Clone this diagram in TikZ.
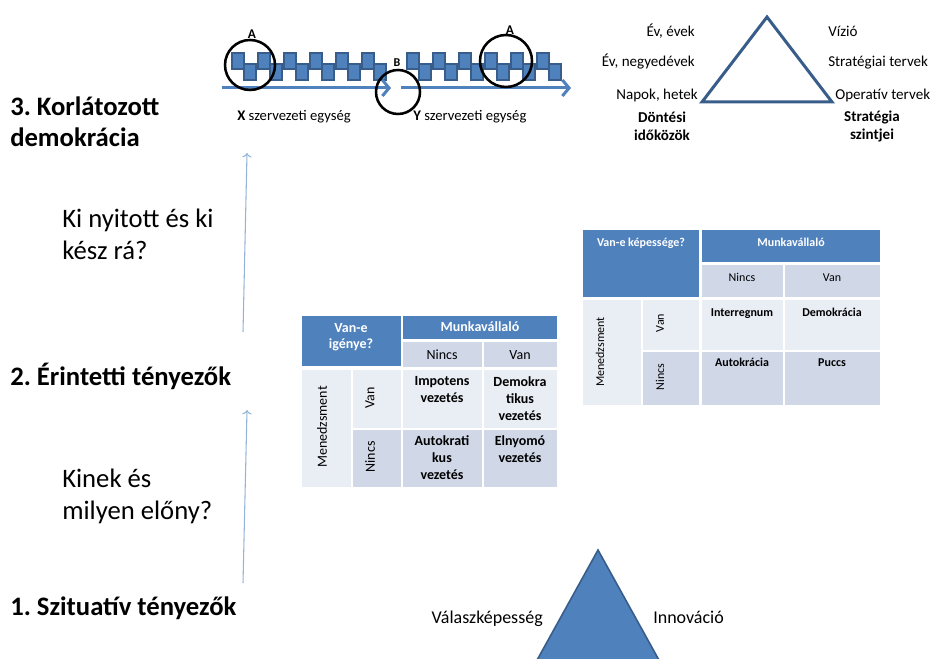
\documentclass[tikz,border=0pt]{standalone}
\usepackage{fontspec}
\setmainfont{Carlito}
\frenchspacing
\usetikzlibrary{arrows.meta}
\definecolor{blk}{HTML}{4F81BD}
\definecolor{blkdark}{HTML}{385D8A}
\definecolor{rowA}{HTML}{E9EDF4}
\definecolor{rowB}{HTML}{D0D8E8}
\definecolor{thinblue}{HTML}{95B3D7}
\begin{document}
\begin{tikzpicture}[x=0.75pt,y=-0.75pt,
    title/.style={font=\fontsize{20}{23.5}\selectfont\bfseries,align=left,inner sep=0},
    ask/.style={font=\fontsize{20}{24}\selectfont,align=left,inner sep=0,anchor=west},
    small/.style={font=\fontsize{10.5}{13.5}\selectfont,inner sep=0},
    lbl/.style={font=\fontsize{11.3}{13.5}\selectfont,inner sep=0},
    tiny/.style={font=\fontsize{9}{11}\selectfont,inner sep=0},
    cellA/.style={small,font=\fontsize{10.5}{12.75}\selectfont\bfseries,align=center,anchor=north},
    cellB/.style={tiny,font=\fontsize{9}{11}\selectfont\bfseries,anchor=base},
    ring/.style={circle,draw=black,line width=1.9pt,inner sep=0},
    bigarrow/.style={blk,line width=2.25pt,-{Straight Barb[length=5pt,width=12pt]}},
    block/.style={fill=blk,draw=blkdark,line width=0.8pt}]
\useasboundingbox (0,0) rectangle (930,659);
% left column
\node[title,anchor=west](t3)at(10,122){3. Korlátozott\\demokrácia};
\node[ask](q2)at(62,234){Ki nyitott és ki\\kész rá?};
\node[title,anchor=base west](t2)at(10,385){2. Érintetti tényezők};
\node[ask](q1)at(62,496){Kinek és\\milyen előny?};
\node[title,anchor=base west](t1)at(10,615){1. Szituatív tényezők};
\coordinate(c1)at(243,583);
\coordinate(c2)at(247,410);
\coordinate(c3)at(243,332);
\coordinate(c4)at(247,153);
\draw[->,thinblue,line width=0.8pt](c1)--(c2);
\draw[->,thinblue,line width=0.8pt](c3)--(c4);
% blocks and units
\foreach \i in {0,...,5}{
    \draw[block]({232+26*\i},53)rectangle({244+26*\i},69);
    \draw[block]({244+26*\i},64)rectangle({256+26*\i},80);
    \draw[block]({407+26*\i},53)rectangle({419+26*\i},69);
    \draw[block]({419+26*\i},64)rectangle({431+26*\i},80);
}
\coordinate(xs)at(222,88);
\coordinate(xe)at(391,88);
\coordinate(ys)at(401,88);
\coordinate(ye)at(571,88);
\draw[bigarrow](xs)--(xe);
\draw[bigarrow](ys)--(ye);
\node[ring,minimum size=37.5pt](A1)at(250,65){};
\node[ring,minimum size=39pt](A2)at(506,61){};
\node[ring,minimum size=33pt](B)at(398,92){};
\node[font=\fontsize{10}{12}\selectfont\bfseries,inner sep=0](la1)at(252,34){A};
\node[font=\fontsize{10}{12}\selectfont\bfseries,inner sep=0](la2)at(510,30){A};
\node[font=\fontsize{9}{11}\selectfont\bfseries,inner sep=0](lb)at(397,63){B};
\node[lbl,font=\fontsize{11}{13}\selectfont,anchor=base west](xl)at(237,121){\textbf{X} szervezeti egység};
\node[lbl,font=\fontsize{11}{13}\selectfont,anchor=base west](yl)at(413,121){\textbf{Y} szervezeti egység};
% strategy triangle
\coordinate(p1)at(767,17);
\coordinate(p2)at(702,102);
\coordinate(p3)at(832,102);
\draw[blkdark,line width=2.25pt](p1)--(p2)--(p3)--cycle;
\node[lbl,anchor=base east](e1)at(695,37){Év, évek};
\node[lbl,anchor=base east](e2)at(695,67){Év, negyedévek};
\node[lbl,anchor=base east](e3)at(698,100){Napok, hetek};
\node[lbl,anchor=base west](s1)at(828,37){Vízió};
\node[lbl,anchor=base west](s2)at(828,67){Stratégiai tervek};
\node[lbl,anchor=base west](s3)at(835,100){Operatív tervek};
\node[lbl,font=\fontsize{11.3}{13.5}\selectfont\bfseries,align=center](dk)at(662,126){Döntési\\időközök};
\node[lbl,font=\fontsize{11.3}{13.5}\selectfont\bfseries,align=center](sz)at(872,126){Stratégia\\szintjei};
% first table
\fill[blk](302,316)rectangle(401,366);
\fill[blk](403,316)rectangle(557,339);
\fill[rowB](403,342)rectangle(482,367);
\fill[rowB](484,342)rectangle(557,367);
\fill[rowA](302,370)rectangle(351,487);
\fill[rowA](353,370)rectangle(401,428);
\fill[rowB](353,430)rectangle(401,487);
\fill[rowA](403,370)rectangle(482,428);
\fill[rowA](484,370)rectangle(557,428);
\fill[rowB](403,430)rectangle(482,487);
\fill[rowB](484,430)rectangle(557,487);
\node[small,font=\fontsize{10.5}{11.5}\selectfont\bfseries,white,align=center](h1)at(351,337){Van-e\\igénye?};
\node[small,font=\fontsize{10.5}{12}\selectfont\bfseries,white,anchor=base](m1)at(480,331){Munkavállaló};
\node[small,anchor=base](n1)at(442,359){Nincs};
\node[small,anchor=base](v1)at(520,359){Van};
\node[small,rotate=90](me1)at(322,427){Menedzsment};
\node[small,rotate=90](rv1)at(370,398){Van};
\node[small,rotate=90](rn1)at(370,457){Nincs};
\node[cellA](c11)at(442,376){Impotens\\vezetés};
\node[cellA](c12)at(520,376){Demokra\\tikus\\vezetés};
\node[cellA](c21)at(442,435){Autokrati\\kus\\vezetés};
\node[cellA](c22)at(520,435){Elnyomó\\vezetés};
% second table
\fill[blk](583,230)rectangle(699,297);
\fill[blk](702,230)rectangle(880,262);
\fill[rowB](702,265)rectangle(783,297);
\fill[rowB](785,265)rectangle(880,297);
\fill[rowA](583,300)rectangle(641,405);
\fill[rowA](643,300)rectangle(699,350);
\fill[rowB](643,352)rectangle(699,405);
\fill[rowA](702,300)rectangle(783,350);
\fill[rowA](785,300)rectangle(880,350);
\fill[rowB](702,352)rectangle(783,405);
\fill[rowB](785,352)rectangle(880,405);
\node[cellB,white](h2)at(641,246){Van-e képessége?};
\node[cellB,white](m2)at(791,246){Munkavállaló};
\node[tiny,anchor=base](n2)at(742,281){Nincs};
\node[tiny,anchor=base](v2)at(832,281){Van};
\node[tiny,rotate=90](me2)at(600,352){Menedzsment};
\node[tiny,rotate=90](rv2)at(660,323){Van};
\node[tiny,rotate=90](rn2)at(660,377){Nincs};
\node[cellB](d11)at(742,316){Interregnum};
\node[cellB](d12)at(832,316){Demokrácia};
\node[cellB](d21)at(742,366){Autokrácia};
\node[cellB](d22)at(832,366){Puccs};
% bottom triangle
\coordinate(b1)at(598,550);
\coordinate(b2)at(526,680);
\coordinate(b3)at(670,680);
\filldraw[fill=blk,draw=blkdark,line width=1.2pt](b1)--(b2)--(b3)--cycle;
\node[lbl,font=\fontsize{13.5}{16}\selectfont,anchor=base east](vk)at(543,623){Válaszképesség};
\node[lbl,font=\fontsize{13.5}{16}\selectfont,anchor=base west](in)at(653,623){Innováció};
\end{tikzpicture}
\end{document}
